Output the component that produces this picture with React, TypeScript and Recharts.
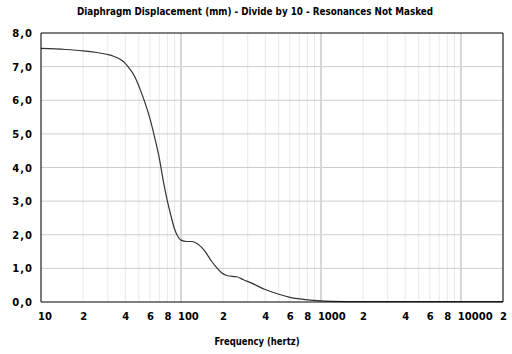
import { LineChart, Line, XAxis, YAxis, ReferenceLine, CartesianGrid } from 'recharts';

// frequency (Hz) and diaphragm displacement (mm / 10)
const freq = [10, 15, 20, 25, 30, 33, 36, 39, 42, 45, 48, 51, 55, 60, 65, 70, 75, 80, 85, 90, 95, 100, 110, 120, 130, 140, 150, 165, 180, 195, 215, 250, 280, 320, 400, 500, 600, 750, 950, 1200, 2000, 5000, 20000];
const disp = [7.54, 7.51, 7.47, 7.42, 7.36, 7.31, 7.24, 7.14, 6.99, 6.82, 6.6, 6.33, 5.96, 5.46, 4.88, 4.28, 3.57, 3.0, 2.55, 2.17, 1.95, 1.84, 1.8, 1.8, 1.74, 1.63, 1.48, 1.22, 1.02, 0.87, 0.78, 0.75, 0.66, 0.56, 0.37, 0.23, 0.14, 0.08, 0.04, 0.02, 0.01, 0.01, 0.01];

const xTicks = [10, 20, 30, 40, 50, 60, 70, 80, 90, 100, 200, 300, 400, 500, 600, 700, 800, 900, 1000, 2000, 3000, 4000, 5000, 6000, 7000, 8000, 9000, 10000, 20000];
const decades = [100, 1000, 10000];
const yTicks = [0, 1, 2, 3, 4, 5, 6, 7, 8];

const data = freq.map((f, i) => ({ f, v: disp[i] }));

const FONT = '"DejaVu Sans", sans-serif';

function xLabel(v: number) {
  const e = Math.floor(Math.log10(v) + 1e-9);
  const m = Math.round(v / Math.pow(10, e));
  if (m === 1) return String(v);
  if (m === 2 || m === 4 || m === 6 || m === 8) return String(m);
  return '';
}

function XTick(props: any) {
  const { x, y, payload } = props;
  const t = xLabel(payload.value);
  if (!t) return null;
  return (
    <text x={x - 3} y={y + 18} textAnchor="start" fontFamily={FONT} fontWeight="bold" fontSize={10} fill="#000">
      {t}
    </text>
  );
}

function YTick(props: any) {
  const { x, y, payload } = props;
  return (
    <text x={x} y={y + 4} textAnchor="end" fontFamily={FONT} fontWeight="bold" fontSize={10} letterSpacing={1} fill="#000">
      {payload.value.toFixed(1).replace('.', ',')}
    </text>
  );
}

export default function App() {
  return (
    <div style={{ position: 'absolute', left: 0, top: 0, width: 512, height: 354, background: '#fff' }}>
      <LineChart width={512} height={354} data={data} margin={{ top: 33, right: 9, bottom: 0, left: 0 }}>
        <CartesianGrid horizontal={false} stroke="#e9e9e9" />
        {yTicks.slice(1, -1).map((t) => (
          <ReferenceLine key={'h' + t} y={t} stroke="#cdcdcd" />
        ))}
        {decades.map((d) => (
          <ReferenceLine key={'d' + d} x={d} stroke="#d6d6d6" strokeWidth={2} />
        ))}
        <ReferenceLine y={8} stroke="#000" />
        <ReferenceLine x={20000} stroke="#000" />
        <XAxis
          dataKey="f"
          type="number"
          scale="log"
          domain={[10, 20000]}
          ticks={xTicks}
          interval={0}
          height={52}
          tickSize={0}
          tickMargin={0}
          tickLine={false}
          axisLine={{ stroke: '#000' }}
          tick={<XTick />}
        />
        <YAxis
          type="number"
          domain={[0, 8]}
          ticks={yTicks}
          interval={0}
          width={41}
          tickSize={0}
          tickMargin={8}
          tickLine={false}
          axisLine={{ stroke: '#000' }}
          tick={<YTick />}
        />
        <Line dataKey="v" type="monotone" stroke="#333" strokeWidth={1.2} dot={false} isAnimationActive={false} />
      </LineChart>
      <svg width={512} height={354} style={{ position: 'absolute', left: 0, top: 0, pointerEvents: 'none' }}>
        <text x={255} y={15} textAnchor="middle" fontFamily={FONT} fontWeight="bold" fontSize={10} textLength={356} lengthAdjust="spacingAndGlyphs" fill="#000">
          Diaphragm Displacement (mm) - Divide by 10 - Resonances Not Masked
        </text>
        <text x={257} y={345} textAnchor="middle" fontFamily={FONT} fontWeight="bold" fontSize={10} textLength={85} lengthAdjust="spacingAndGlyphs" fill="#000">
          Frequency (hertz)
        </text>
      </svg>
    </div>
  );
}
